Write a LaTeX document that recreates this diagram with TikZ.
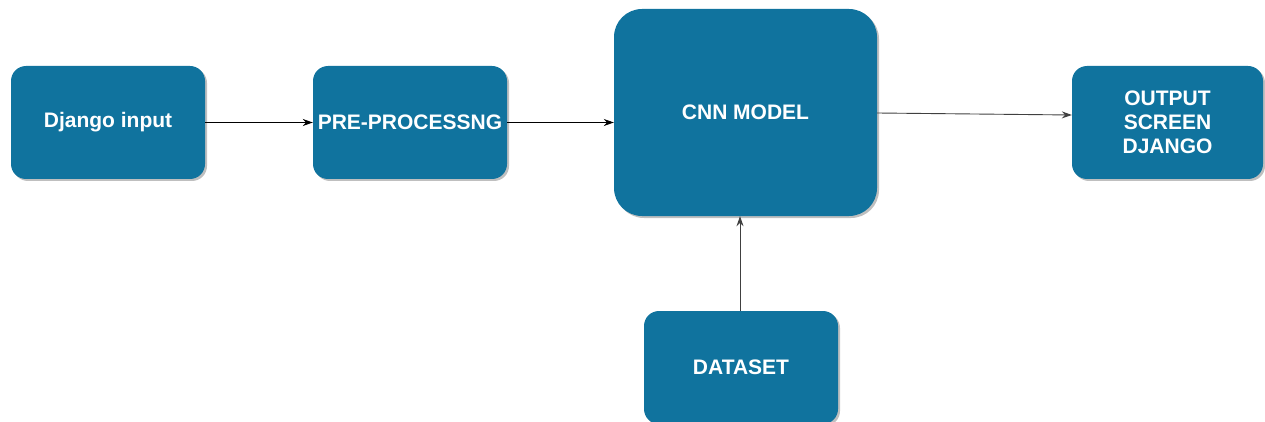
\documentclass[tikz,border=0pt]{standalone}
\usepackage{fontspec}
\setmainfont{Liberation Sans}
\usetikzlibrary{arrows.meta,shadows}
\definecolor{boxblue}{HTML}{10739E}
\begin{document}
\begin{tikzpicture}[x=1pt,y=-1pt,
  box/.style={fill=boxblue, draw=none, rounded corners=15pt, text=white,
    inner sep=0pt, minimum width=194pt, minimum height=113pt,
    font=\fontsize{21}{24}\selectfont\bfseries, align=center,
    drop shadow={shadow xshift=2pt, shadow yshift=-2pt, fill=black, opacity=0.25}},
  conn/.style={-{Stealth[length=10pt,width=7pt]}, line width=0.9pt, draw=black}]
\useasboundingbox (0,0) rectangle (1265,422);
\node (inp) [box] at (108,122.5) {Django input};
\node (pre) [box] at (410,122.5) {PRE-PROCESSNG};
\node (cnn) [box, rounded corners=28pt, minimum width=263pt, minimum height=207pt] at (745.5,112.5) {CNN MODEL};
\node (out) [box, minimum width=191pt] at (1167.5,122.5) {OUTPUT\\SCREEN\\DJANGO};
\node (data) [box] at (741,367.5) {DATASET};
\draw[conn] (inp.east) -- (pre.west);
\draw[conn] (pre.east) -- (cnn.west |- pre.east);
\draw[conn, draw=black!75] ([yshift=-0.5pt]cnn.east) -- ([yshift=7.5pt]out.west);
\draw[conn, draw=black!75] (data.north -| 740,0) -- (cnn.south -| 740,0);
\end{tikzpicture}
\end{document}
